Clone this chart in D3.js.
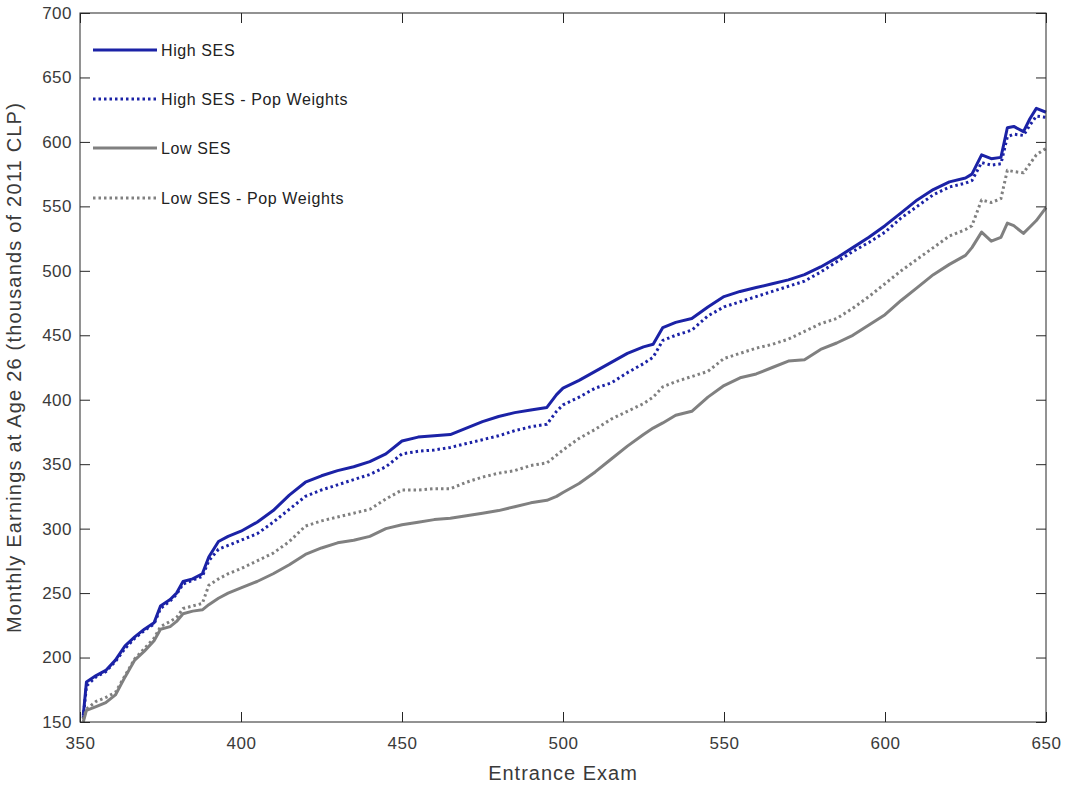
<!DOCTYPE html>
<html>
<head>
<meta charset="utf-8">
<script src="https://cdn.jsdelivr.net/npm/d3@7"></script>
<style>
  body { margin: 0; background: #fff; }
  svg { display: block; font-family: "Liberation Sans", Arial, sans-serif; }
</style>
</head>
<body>
<div class="chartHolder"></div>
<script>
// entrance exam scores where the curves were read
var exam = [351, 352, 355, 358, 361, 364, 367, 370, 373, 375, 378, 380, 382, 385, 388, 390, 393, 396, 400, 405,
  410, 415, 420, 425, 430, 435, 440, 445, 450, 455, 460, 465, 470, 475, 480, 485, 490, 495, 498, 500,
  505, 510, 515, 520, 525, 528, 531, 535, 540, 545, 550, 555, 560, 565, 570, 575, 580, 585, 590, 595,
  600, 605, 610, 615, 620, 625, 627, 630, 633, 636, 638, 640, 643, 645, 647, 650];

var highSES = [155, 181, 186, 190, 198, 209, 216, 222, 227, 240, 245, 250, 259, 261, 265, 278, 290, 294, 298, 305,
  314, 326, 336, 341, 345, 348, 352, 358, 368, 371, 372, 373, 378, 383, 387, 390, 392, 394, 404, 409,
  415, 422, 429, 436, 441, 443, 456, 460, 463, 472, 480, 484, 487, 490, 493, 497, 503, 510, 518, 526,
  535, 545, 555, 563, 569, 572, 575, 590, 587, 588, 611, 612, 608, 618, 626, 623];

var highSESPop = [153, 178, 185, 189, 197, 207, 215, 221, 226, 238, 244, 249, 257, 260, 263, 275, 284, 287, 291, 296,
  305, 315, 325, 330, 334, 338, 342, 348, 358, 360, 361, 363, 366, 369, 372, 376, 379, 381, 391, 396,
  402, 409, 413, 421, 428, 433, 446, 450, 454, 465, 472, 476, 480, 484, 488, 492, 499, 507, 515, 522,
  530, 541, 550, 559, 565, 568, 570, 584, 582, 583, 604, 606, 605, 613, 620, 619];

var lowSES = [150, 159, 162, 165, 171, 185, 198, 205, 213, 222, 224, 228, 234, 236, 237, 241, 246, 250, 254, 259,
  265, 272, 280, 285, 289, 291, 294, 300, 303, 305, 307, 308, 310, 312, 314, 317, 320, 322, 325, 328,
  335, 344, 354, 364, 373, 378, 382, 388, 391, 402, 411, 417, 420, 425, 430, 431, 439, 444, 450, 458,
  466, 477, 487, 497, 505, 512, 518, 530, 523, 526, 537, 535, 529, 534, 539, 549];

var lowSESPop = [152, 160, 166, 169, 173, 186, 199, 207, 215, 224, 228, 231, 238, 240, 242, 256, 261, 265, 269, 275,
  281, 290, 302, 306, 309, 312, 315, 323, 330, 330, 331, 331, 336, 340, 343, 345, 349, 351, 357, 361,
  370, 377, 385, 391, 397, 402, 410, 414, 418, 422, 432, 436, 440, 443, 447, 453, 459, 463, 471, 480,
  490, 500, 509, 518, 527, 532, 535, 555, 553, 556, 578, 577, 576, 583, 590, 595];

var seriesNames = ["High SES", "High SES - Pop Weights", "Low SES", "Low SES - Pop Weights"];
var seriesValues = [highSES, highSESPop, lowSES, lowSESPop];
var seriesColors = ["#1b22a6", "#1b22a6", "#808080", "#808080"];
var seriesDashed = [false, true, false, true];

var xTicks = [350, 400, 450, 500, 550, 600, 650];
var yTicks = [150, 200, 250, 300, 350, 400, 450, 500, 550, 600, 650, 700];

var svgW = 1065, svgH = 785;
var margin = { top: 13, right: 19, bottom: 63, left: 80 },
    w = svgW - margin.left - margin.right,
    h = svgH - margin.top - margin.bottom;

var svg = d3.select(".chartHolder").append("svg").attr("width", svgW).attr("height", svgH);
var g = svg.append("g").attr("transform", "translate(" + margin.left + "," + margin.top + ")");

var xScale = d3.scaleLinear().domain([350, 650]).range([0, w]);
var yScale = d3.scaleLinear().domain([150, 700]).range([h, 0]);

// lines
var line = d3.line().x(function (d) { return xScale(d[0]); }).y(function (d) { return yScale(d[1]); });

seriesValues.forEach(function (vals, i) {
  var pts = exam.map(function (x, j) { return [x, vals[j]]; });
  g.append("path").datum(pts)
    .attr("d", line)
    .attr("fill", "none")
    .attr("stroke", seriesColors[i])
    .attr("stroke-width", 3)
    .attr("stroke-linejoin", "round")
    .attr("stroke-dasharray", seriesDashed[i] ? "2.5,3" : null);
});

// axes, MATLAB style box with inward ticks on every side
var axisColor = "#262626";
var tickLen = 10;

function styleAxis(sel) {
  sel.select(".domain").remove();
  sel.selectAll(".tick line").attr("stroke", axisColor);
  sel.selectAll(".tick text").attr("fill", "#3a3a3a").attr("font-size", "17px").attr("letter-spacing", "0.5px");
}

g.append("g").attr("transform", "translate(0," + h + ")")
  .call(d3.axisBottom(xScale).tickValues(xTicks).tickSizeInner(-tickLen).tickSizeOuter(0).tickPadding(15))
  .call(styleAxis);
g.append("g")
  .call(d3.axisTop(xScale).tickValues(xTicks).tickSizeInner(-tickLen).tickSizeOuter(0).tickFormat(""))
  .call(styleAxis);
g.append("g")
  .call(d3.axisLeft(yScale).tickValues(yTicks).tickSizeInner(-tickLen).tickSizeOuter(0).tickPadding(8))
  .call(styleAxis);
g.append("g").attr("transform", "translate(" + w + ",0)")
  .call(d3.axisRight(yScale).tickValues(yTicks).tickSizeInner(-tickLen).tickSizeOuter(0).tickFormat(""))
  .call(styleAxis);

g.append("rect").attr("x", 0).attr("y", 0).attr("width", w).attr("height", h)
  .attr("fill", "none").attr("stroke", axisColor).attr("stroke-width", 1);

// axis titles
svg.append("text").attr("x", margin.left + w / 2).attr("y", 780)
  .attr("text-anchor", "middle").attr("font-size", "20px").attr("letter-spacing", "1px").attr("fill", "#3a3a3a")
  .text("Entrance Exam");
svg.append("text").attr("transform", "translate(21," + (margin.top + h / 2) + ") rotate(-90)")
  .attr("text-anchor", "middle").attr("font-size", "20px").attr("letter-spacing", "1.2px").attr("fill", "#3a3a3a")
  .text("Monthly Earnings at Age 26 (thousands of 2011 CLP)");

// legend, no box
var legend = svg.append("g").attr("id", "legend");
var legendY = [50, 99, 148, 198];
seriesNames.forEach(function (name, i) {
  legend.append("line")
    .attr("x1", 93).attr("x2", 157).attr("y1", legendY[i]).attr("y2", legendY[i])
    .attr("stroke", seriesColors[i]).attr("stroke-width", 3)
    .attr("stroke-dasharray", seriesDashed[i] ? "2.5,3" : null);
  legend.append("text")
    .attr("x", 161).attr("y", legendY[i]).attr("dy", "0.35em")
    .attr("font-size", "16px").attr("letter-spacing", "0.6px").attr("fill", "#222")
    .text(name);
});
</script>
</body>
</html>
